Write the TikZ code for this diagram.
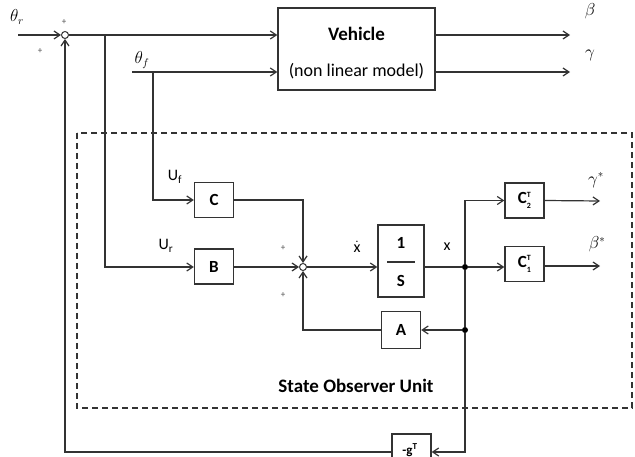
\documentclass[tikz,border=0pt]{standalone}
\usepackage{fontspec}
\setmainfont{Carlito}
\usetikzlibrary{arrows.meta,calc}
\newcommand{\ctsub}[1]{C\raisebox{-5pt}{\fontsize{8}{8}\selectfont\shortstack[l]{T\\[3pt]#1}}}
\begin{document}
\begin{tikzpicture}[x=1pt,y=-1pt,
  wire/.style={draw=black!80,line width=1.2pt},
  arr/.style={wire,-{Straight Barb[length=6pt,width=8pt,line width=1.2pt]}},
  blk/.style={draw=black!80,line width=1.4pt,minimum width=39pt,minimum height=35pt,inner sep=0pt,font=\fontsize{17}{19}\selectfont\bfseries},
  sumc/.style={circle,draw=black!80,line width=1pt,fill=white,minimum size=7pt,inner sep=0pt},
  dotn/.style={circle,fill=black,minimum size=6pt,inner sep=0pt},
  lbl/.style={inner sep=0pt,font=\fontsize{16}{18}\selectfont},
  pm/.style={inner sep=0pt,font=\fontsize{9}{10}\selectfont\color{black!70}}]
\useasboundingbox (0,0) rectangle (635,457);
% dashed observer frame
\draw[draw=black!80,line width=1.5pt,dash pattern=on 6pt off 4pt] (77,133) rectangle (632,408);
\node[font=\fontsize{19}{21}\selectfont\bfseries,inner sep=0pt] (sou) at (356,386) {State Observer Unit};
% nodes
\node[sumc] (s1) at (65,35) {};
\node[draw=black!80,line width=1.4pt,minimum width=157pt,minimum height=82pt,inner sep=0pt] (veh) at (356.5,49) {};
\node[font=\fontsize{19}{21}\selectfont\bfseries,inner sep=0pt] (vt1) at (356.5,34) {Vehicle};
\node[font=\fontsize{18}{20}\selectfont,inner sep=0pt] (vt2) at (356.5,71) {(non linear model)};
\node[blk] (C) at (214,200) {C};
\node[blk] (B) at (214,266.5) {B};
\node[sumc] (s2) at (303,267) {};
\node[blk,minimum width=46pt,minimum height=72pt] (S) at (401,261) {};
\node[font=\fontsize{17}{19}\selectfont\bfseries,inner sep=0pt] (s1t) at (401,243) {1};
\node[font=\fontsize{17}{19}\selectfont\bfseries,inner sep=0pt] (s2t) at (401,281) {S};
\draw[draw=black!80,line width=1.2pt] (387,262) -- (415,262);
\node[dotn] (d1) at (465,267) {};
\node[dotn] (d2) at (465,330) {};
\node[blk] (C2) at (524.5,200.5) {\ctsub{2}};
\node[blk] (C1) at (524.5,264) {\ctsub{1}};
\node[blk,minimum height=37pt] (A) at (401,330) {A};
\node[blk,minimum height=36pt] (G) at (411.5,452) {};
\node[font=\fontsize{13}{15}\selectfont\bfseries,inner sep=0pt] (Gt) at (410,450) {-g\textsuperscript{T}};
% coordinates
\coordinate (in) at (18,35);
\coordinate (b1) at (105,35);
\coordinate (b2) at (105,267);
\coordinate (f0) at (132,72);
\coordinate (f1) at (153,72);
\coordinate (f2) at (153,200);
\coordinate (ob) at (570,35);
\coordinate (og) at (570,72);
\coordinate (oc2) at (600,201);
\coordinate (oc1) at (600,266);
\coordinate (cc) at (303,200);
\coordinate (aa) at (303,330);
\coordinate (gg) at (465,452);
\coordinate (ff) at (65,452);
% connectors
\draw[arr] (in) -- (s1.west);
\draw[arr] (s1.east) -- (veh.west |- s1);
\draw[arr] (f0) -- (veh.west |- f0);
\draw[arr] (veh.east |- ob) -- (ob);
\draw[arr] (veh.east |- og) -- (og);
\draw[arr] (b1) -- (b2) -- (B.west |- b2);
\draw[arr] (f1) -- (f2) -- (C.west);
\draw[arr] (C.east) -- (cc) -- (s2.north);
\draw[arr] (B.east |- s2) -- (s2.west);
\draw[arr] (s2.east) -- (S.west |- s2);
\draw[wire] (S.east |- d1) -- (d1);
\draw[arr] (d1) -- (C1.west |- d1);
\draw[arr] (d1) -- (d1 |- C2) -- (C2.west);
\draw[arr] (C2.east) -- (oc2);
\draw[arr] (C1.east |- oc1) -- (oc1);
\draw[wire] (d1) -- (d2);
\draw[arr] (d2) -- (A.east);
\draw[arr] (A.west) -- (aa) -- (s2.south);
\draw[arr] (d2) -- (gg) -- (G.east |- gg);
\draw[arr] (G.west |- ff) -- (ff) -- (s1.south);
% labels
\node[lbl] (lr) at (17,17) {$\theta_r$};
\node[pm] (p1) at (64,22) {+};
\node[pm] (p2) at (40,51) {+};
\node[lbl] (lf) at (142,60) {$\theta_f$};
\node[lbl] (uf) at (175,177) {U\textsubscript{f}};
\node[lbl] (ur) at (166,246) {U\textsubscript{r}};
\node[pm] (p3) at (283,248) {+};
\node[pm] (p4) at (283,295) {+};
\node[lbl] (xd) at (357,247) {$\dot{\mathrm{x}}$};
\node[lbl] (xx) at (447,247) {x};
\node[lbl] (lb) at (590,11) {$\beta$};
\node[lbl] (lg) at (590,55) {$\gamma$};
\node[lbl] (lgs) at (596,180) {$\gamma^{*}$};
\node[lbl] (lbs) at (597,244) {$\beta^{*}$};
\end{tikzpicture}
\end{document}
